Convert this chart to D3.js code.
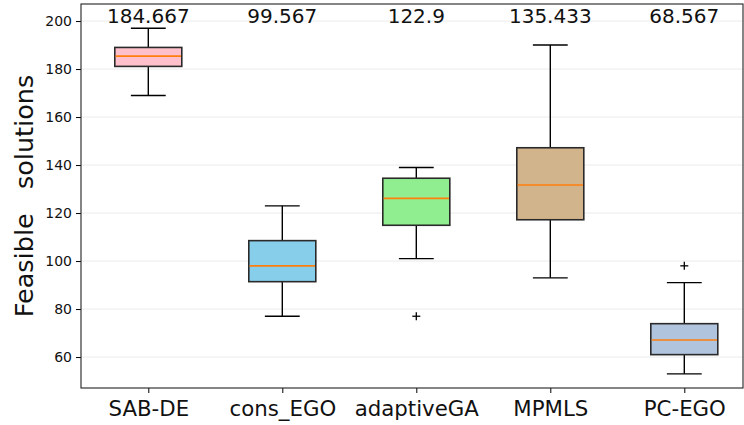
<!DOCTYPE html>
<html><head><meta charset="utf-8">
<script src="https://cdn.jsdelivr.net/npm/d3@7"></script>
<style>body{margin:0;background:#fff}svg{display:block}text{font-family:"DejaVu Sans",sans-serif}</style>
</head><body><svg id="c" width="744" height="425"></svg>
<script>
const categories = ["SAB-DE","cons_EGO","adaptiveGA","MPMLS","PC-EGO"];
const whiskerLow = [169, 77, 101, 93, 53];
const q1 = [181.1, 91.4, 114.9, 117.2, 61.0];
const median = [185.4, 98.0, 126.1, 131.7, 67.1];
const q3 = [189.0, 108.5, 134.5, 147.2, 73.9];
const whiskerHigh = [197, 123, 139, 190, 91];
const outliers = [[], [], [77], [], [98]];
const means = ["184.667","99.567","122.9","135.433","68.567"];
const colors = ["#FFC0CB","#87CEEB","#90EE90","#D2B48C","#B0C4DE"];
const yTicks = [60,80,100,120,140,160,180,200];

const svg = d3.select("#c");
const L = 81, R = 743, T = 4, B = 388;
const x = d3.scaleLinear().domain([0.5, 5.5]).range([81.3, 751.3]);
const y = d3.scaleLinear().domain([47.1, 207.1]).range([B, T]);
const step = x(2) - x(1);

// grid
svg.append("g").selectAll("line").data(yTicks).join("line")
  .attr("x1", L).attr("x2", R).attr("y1", d => y(d)).attr("y2", d => y(d))
  .attr("stroke", "#ebebeb").attr("stroke-width", 1);

// y axis
const ya = svg.append("g").attr("transform", `translate(${L},0)`)
  .call(d3.axisLeft(y).tickValues(yTicks).tickSize(5).tickPadding(4));
ya.select(".domain").remove();
ya.selectAll("line").attr("stroke", "#000");
ya.selectAll("text").attr("font-size", 14).attr("fill", "#111").attr("font-family", "DejaVu Sans");

// x axis
const xa = svg.append("g").attr("transform", `translate(0,${B})`)
  .call(d3.axisBottom(x).tickValues([1,2,3,4,5]).tickFormat((d,i) => categories[i]).tickSize(5).tickPadding(6));
xa.select(".domain").remove();
xa.selectAll("line").attr("stroke", "#000");
xa.selectAll("text").attr("font-size", 21.3).attr("fill", "#111").attr("font-family", "DejaVu Sans").attr("dy", "0.8em");

const g = svg.append("g");
categories.forEach((c, i) => {
  const cx = x(i + 1);
  const bw = step * 0.5, cw = step * 0.26;
  const gg = g.append("g");
  gg.append("line").attr("x1", cx).attr("x2", cx).attr("y1", y(q3[i])).attr("y2", y(whiskerHigh[i])).attr("stroke", "#000").attr("stroke-width", 1.4);
  gg.append("line").attr("x1", cx).attr("x2", cx).attr("y1", y(q1[i])).attr("y2", y(whiskerLow[i])).attr("stroke", "#000").attr("stroke-width", 1.4);
  [whiskerHigh[i], whiskerLow[i]].forEach(v => gg.append("line").attr("x1", cx - cw/2).attr("x2", cx + cw/2)
    .attr("y1", y(v)).attr("y2", y(v)).attr("stroke", "#000").attr("stroke-width", 1.4));
  gg.append("rect").attr("x", cx - bw/2).attr("width", bw).attr("y", y(q3[i])).attr("height", y(q1[i]) - y(q3[i]))
    .attr("fill", colors[i]).attr("stroke", "#2a2a2a").attr("stroke-width", 1.6);
  gg.append("line").attr("x1", cx - bw/2 + 0.8).attr("x2", cx + bw/2 - 0.8).attr("y1", y(median[i])).attr("y2", y(median[i]))
    .attr("stroke", "#ff7f0e").attr("stroke-width", 1.6);
  outliers[i].forEach(v => {
    const oy = y(v), s = 4;
    gg.append("line").attr("x1", cx - s).attr("x2", cx + s).attr("y1", oy).attr("y2", oy).attr("stroke", "#000").attr("stroke-width", 1.3);
    gg.append("line").attr("x1", cx).attr("x2", cx).attr("y1", oy - s).attr("y2", oy + s).attr("stroke", "#000").attr("stroke-width", 1.3);
  });
  svg.append("text").attr("x", cx).attr("y", 23).attr("text-anchor", "middle").attr("font-size", 20).attr("fill", "#111").text(means[i]);
});

// frame
svg.append("rect").attr("x", L).attr("y", T).attr("width", R - L).attr("height", B - T)
  .attr("fill", "none").attr("stroke", "#222").attr("stroke-width", 1.1);

// y label
svg.append("text").attr("transform", `translate(33,${(T + B) / 2}) rotate(-90)`)
  .attr("text-anchor", "middle").attr("font-size", 25.5).attr("fill", "#111")
  .style("white-space", "pre").text("Feasible   solutions");
</script></body></html>
